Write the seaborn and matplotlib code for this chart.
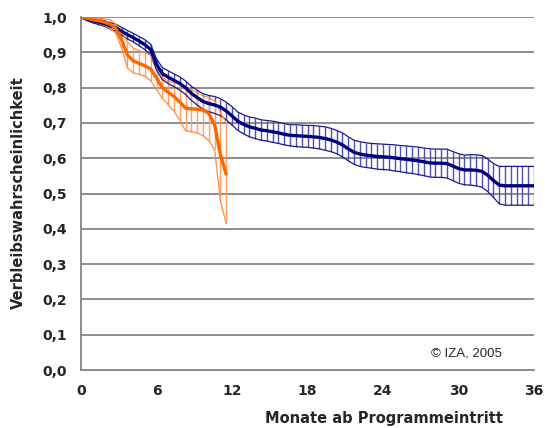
import matplotlib
matplotlib.use("Agg")
import matplotlib.pyplot as plt
import seaborn as sns
import pandas as pd

# -------------------------------------------------------------------
# Verbleibswahrscheinlichkeit (Kaplan-Meier) mit Konfidenzband
# Werte zweiwöchentlich
# -------------------------------------------------------------------

wochen_blau = list(range(0, 157, 2))     # 0 .. 156 Wochen
wochen_orange = list(range(0, 51, 2))    # 0 .. 50 Wochen

blau_mittel = [
    1.000, 0.995, 0.990, 0.986, 0.982, 0.975, 0.970, 0.960, 0.950, 0.942,
    0.932, 0.922, 0.908, 0.866, 0.840, 0.830, 0.821, 0.812, 0.800, 0.784,
    0.772, 0.761, 0.755, 0.751, 0.745, 0.734, 0.720, 0.705, 0.696, 0.689,
    0.685, 0.680, 0.678, 0.675, 0.672, 0.668, 0.665, 0.664, 0.663, 0.662,
    0.661, 0.659, 0.656, 0.652, 0.646, 0.638, 0.627, 0.617, 0.612, 0.609,
    0.607, 0.605, 0.604, 0.603, 0.601, 0.599, 0.597, 0.595, 0.593, 0.590,
    0.587, 0.586, 0.586, 0.585, 0.578, 0.571, 0.567, 0.567, 0.566, 0.563,
    0.552, 0.537, 0.524, 0.522, 0.522, 0.522, 0.522, 0.522, 0.522,
]
blau_halbbreite = [
    0.000, 0.005, 0.006, 0.007, 0.008, 0.009, 0.010, 0.011, 0.012, 0.012,
    0.013, 0.014, 0.015, 0.016, 0.017, 0.018, 0.018, 0.019, 0.019, 0.020,
    0.021, 0.022, 0.023, 0.024, 0.024, 0.025, 0.026, 0.026, 0.027, 0.028,
    0.029, 0.029, 0.029, 0.030, 0.030, 0.030, 0.030, 0.031, 0.031, 0.031,
    0.032, 0.032, 0.033, 0.033, 0.033, 0.034, 0.034, 0.034, 0.035, 0.035,
    0.035, 0.036, 0.036, 0.036, 0.037, 0.037, 0.038, 0.038, 0.039, 0.039,
    0.040, 0.040, 0.040, 0.041, 0.041, 0.042, 0.042, 0.043, 0.044, 0.045,
    0.046, 0.048, 0.053, 0.055, 0.055, 0.055, 0.055, 0.055, 0.055,
]

orange_mittel = [
    1.000, 0.997, 0.993, 0.990, 0.986, 0.980, 0.968, 0.935, 0.893, 0.876,
    0.869, 0.862, 0.853, 0.828, 0.800, 0.787, 0.775, 0.760, 0.742, 0.740,
    0.739, 0.737, 0.727, 0.695, 0.610, 0.555,
]
orange_oben = [
    1.000, 0.999, 0.998, 0.997, 0.995, 0.993, 0.980, 0.958, 0.930, 0.912,
    0.905, 0.900, 0.892, 0.860, 0.830, 0.818, 0.815, 0.812, 0.803, 0.795,
    0.786, 0.777, 0.772, 0.762, 0.730, 0.700,
]
orange_unten = [
    1.000, 0.995, 0.988, 0.983, 0.977, 0.967, 0.955, 0.912, 0.856, 0.842,
    0.838, 0.832, 0.820, 0.795, 0.770, 0.752, 0.733, 0.708, 0.678, 0.675,
    0.672, 0.664, 0.650, 0.625, 0.480, 0.415,
]

x_ticks = [0, 6, 12, 18, 24, 30, 36]
y_ticks = [0.0, 0.1, 0.2, 0.3, 0.4, 0.5, 0.6, 0.7, 0.8, 0.9, 1.0]

# Wochen -> Monate
df_blau = pd.DataFrame({"monat": [w * 12 / 52 for w in wochen_blau],
                        "wert": blau_mittel, "hb": blau_halbbreite})
df_blau["oben"] = df_blau["wert"] + df_blau["hb"]
df_blau["unten"] = df_blau["wert"] - df_blau["hb"]

df_orange = pd.DataFrame({"monat": [w * 12 / 52 for w in wochen_orange],
                          "wert": orange_mittel, "oben": orange_oben,
                          "unten": orange_unten})

sns.set_style("white")
plt.rcParams["font.family"] = ["DejaVu Sans"]

fig = plt.figure(figsize=(5.45, 4.28), dpi=100)
ax = fig.add_axes([0.1486, 0.1355, 0.8314, 0.8245])

for y in y_ticks[1:]:
    ax.axhline(y, color="#858585", lw=1.3, zorder=0)

# Konfidenzbänder mit senkrechter Schraffur
for df, farbe_rand, farbe_schraffur in [
    (df_blau, "#1a1a8c", "#5050b0"),
    (df_orange, "#ff8c40", "#ffa060"),
]:
    ax.vlines(df["monat"], df["unten"], df["oben"], color=farbe_schraffur, lw=1.0, zorder=2)
    ax.plot(df["monat"], df["oben"], color=farbe_rand, lw=0.9, zorder=3)
    ax.plot(df["monat"], df["unten"], color=farbe_rand, lw=0.9, zorder=3)

sns.lineplot(data=df_blau, x="monat", y="wert", color="#000080", lw=2.4, ax=ax, zorder=4)
sns.lineplot(data=df_orange, x="monat", y="wert", color="#ff6600", lw=2.4, ax=ax, zorder=5)

ax.set_xlim(0, 36)
ax.set_ylim(0, 1.0)
ax.set_xticks(x_ticks)
ax.set_yticks(y_ticks)
ax.set_xticklabels([str(t) for t in x_ticks], fontsize=10, fontweight="bold")
ax.set_yticklabels([f"{t:.1f}".replace(".", ",") for t in y_ticks], fontsize=10, fontweight="bold")
ax.tick_params(axis="both", direction="out", length=4, width=1, color="#858585", pad=6)

for s in ["top", "right"]:
    ax.spines[s].set_visible(False)
for s in ["left", "bottom"]:
    ax.spines[s].set_color("#858585")
    ax.spines[s].set_linewidth(1.3)

ax.set_xlabel("Monate ab Programmeintritt", fontsize=10.5, fontweight="bold")
ax.set_ylabel("Verbleibswahrscheinlichkeit", fontsize=10.5, fontweight="bold")
ax.xaxis.set_label_coords(0.669, -0.115)
ax.yaxis.set_label_coords(-0.122, 0.504)

ax.text(33.4, 0.048, "© IZA, 2005", fontsize=9.5, ha="right", va="center",
        family=["Liberation Sans", "DejaVu Sans"])

fig.savefig("out.png", dpi=100)
